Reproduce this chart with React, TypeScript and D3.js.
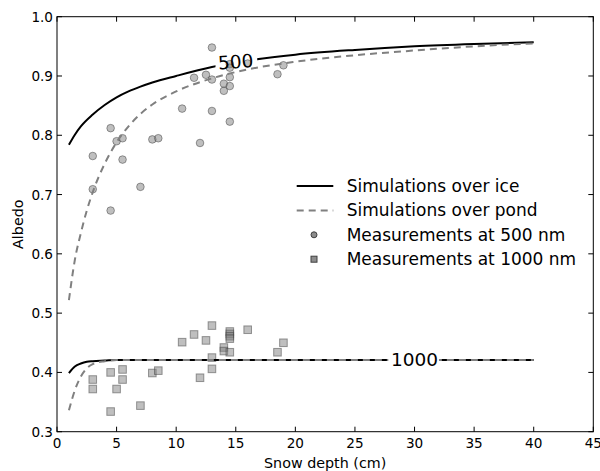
import React from "react";
import * as d3 from "d3";

// ---- data ----
const iceDepth500 = [1, 1.5, 2, 3, 4, 5, 6, 7, 8, 10, 13, 16, 20, 25, 30, 35, 40];
const iceAlbedo500 = [0.784, 0.801, 0.815, 0.835, 0.851, 0.864, 0.874, 0.882, 0.889, 0.9, 0.915, 0.926, 0.936, 0.944, 0.95, 0.954, 0.957];
const pondDepth500 = [1, 1.5, 2, 2.5, 3, 4, 5, 6, 7, 8, 10, 13, 16, 20, 25, 30, 35, 40];
const pondAlbedo500 = [0.522, 0.59, 0.635, 0.673, 0.704, 0.752, 0.788, 0.815, 0.836, 0.852, 0.874, 0.896, 0.911, 0.924, 0.935, 0.943, 0.95, 0.955];
const iceDepth1000 = [1, 1.5, 2, 2.5, 3, 4, 5, 40];
const iceAlbedo1000 = [0.399, 0.41, 0.415, 0.418, 0.419, 0.42, 0.421, 0.421];
const pondDepth1000 = [1, 1.5, 2, 2.5, 3, 4, 5, 40];
const pondAlbedo1000 = [0.336, 0.37, 0.393, 0.407, 0.414, 0.419, 0.421, 0.421];

const measDepth500 = [4.5, 3, 5, 5.5, 5.5, 8, 8.5, 3, 7, 4.5, 13, 11.5, 12.5, 13, 14, 14, 14.5, 14.5, 14.5, 14.5, 16, 18.5, 19, 10.5, 13, 14.5, 12];
const measAlbedo500 = [0.812, 0.765, 0.79, 0.795, 0.759, 0.793, 0.795, 0.709, 0.713, 0.673, 0.948, 0.897, 0.902, 0.894, 0.887, 0.875, 0.898, 0.883, 0.92, 0.914, 0.921, 0.903, 0.918, 0.845, 0.841, 0.823, 0.787];
const measDepth1000 = [3, 3, 4.5, 4.5, 5.5, 5.5, 5, 7, 8, 8.5, 13, 13, 13, 11.5, 12.5, 10.5, 12, 14, 14, 14.5, 14.5, 14.5, 14.5, 14.5, 16, 18.5, 19];
const measAlbedo1000 = [0.388, 0.372, 0.4, 0.334, 0.405, 0.388, 0.372, 0.344, 0.399, 0.403, 0.479, 0.425, 0.406, 0.464, 0.454, 0.451, 0.391, 0.442, 0.436, 0.469, 0.465, 0.461, 0.457, 0.434, 0.472, 0.434, 0.45];

const xTicks = [0, 5, 10, 15, 20, 25, 30, 35, 40, 45];
const yTicks = [0.3, 0.4, 0.5, 0.6, 0.7, 0.8, 0.9, 1.0];
const legendLabels = ["Simulations over ice", "Simulations over pond", "Measurements at 500 nm", "Measurements at 1000 nm"];

const W = 600, H = 471;
const L = 57, R = 593.3, T = 16.7, B = 431.7;
const FONT = "DejaVu Sans, sans-serif";

export default function App() {
  const x = d3.scaleLinear().domain([0, 45]).range([L, R]);
  const y = d3.scaleLinear().domain([0.3, 1.0]).range([B, T]);
  const line = (xs: number[], ys: number[]) =>
    d3.line<number>().x((_, i) => x(xs[i])).y((_, i) => y(ys[i])).curve(d3.curveMonotoneX)(xs) || "";

  const tick = 5;
  const lab500 = { x: x(15.0), y: y(0.924) };
  const lab1000 = { x: x(30.0), y: y(0.421) };
  const markerR = 3.8;
  const sq = 7.6;

  return (
    <svg width={W} height={H} style={{ position: "absolute", left: 0, top: 0 }} fontFamily={FONT}>
      <defs>
        <mask id="m500">
          <rect x={0} y={0} width={W} height={H} fill="white" />
          <rect x={x(13.3)} y={lab500.y - 16} width={x(16.8) - x(13.3)} height={26} fill="black" />
        </mask>
        <mask id="m1000">
          <rect x={0} y={0} width={W} height={H} fill="white" />
          <rect x={x(27.8)} y={lab1000.y - 14} width={x(32.05) - x(27.8)} height={28} fill="black" />
        </mask>
        <clipPath id="plot"><rect x={L} y={T} width={R - L} height={B - T} /></clipPath>
      </defs>
      <rect x={0} y={0} width={W} height={H} fill="white" />

      <g clipPath="url(#plot)">
        {measDepth500.map((d, i) => (
          <circle key={"c" + i} cx={x(d)} cy={y(measAlbedo500[i])} r={markerR}
            fill="#808080" fillOpacity={0.5} stroke="#404040" strokeOpacity={0.5} strokeWidth={1} />
        ))}
        {measDepth1000.map((d, i) => (
          <rect key={"s" + i} x={x(d) - sq / 2} y={y(measAlbedo1000[i]) - sq / 2} width={sq} height={sq}
            fill="#808080" fillOpacity={0.5} stroke="#404040" strokeOpacity={0.5} strokeWidth={1} />
        ))}
        <path d={line(iceDepth500, iceAlbedo500)} fill="none" stroke="black" strokeWidth={2} mask="url(#m500)" />
        <path d={line(pondDepth500, pondAlbedo500)} fill="none" stroke="#808080" strokeWidth={2} strokeDasharray="7,5" />
        <g mask="url(#m1000)">
          <path d={line(iceDepth1000, iceAlbedo1000)} fill="none" stroke="black" strokeWidth={2} />
          <path d={line(pondDepth1000, pondAlbedo1000)} fill="none" stroke="#808080" strokeWidth={2} strokeDasharray="7,5" />
        </g>
      </g>

      <text x={lab500.x} y={lab500.y} fontSize={18.5} textAnchor="middle" dominantBaseline="central"
        transform={`rotate(-4 ${lab500.x} ${lab500.y})`}>500</text>
      <text x={lab1000.x} y={lab1000.y} fontSize={18.5} textAnchor="middle" dominantBaseline="central">1000</text>

      <rect x={L} y={T} width={R - L} height={B - T} fill="none" stroke="black" strokeWidth={1} />
      {xTicks.map((t) => (
        <g key={"xt" + t}>
          <line x1={x(t)} x2={x(t)} y1={B} y2={B - tick} stroke="black" />
          <line x1={x(t)} x2={x(t)} y1={T} y2={T + tick} stroke="black" />
          <text x={x(t)} y={B + 11} fontSize={13.6} textAnchor="middle" dominantBaseline="central">{t}</text>
        </g>
      ))}
      {yTicks.map((t) => (
        <g key={"yt" + t}>
          <line x1={L} x2={L + tick} y1={y(t)} y2={y(t)} stroke="black" />
          <line x1={R} x2={R - tick} y1={y(t)} y2={y(t)} stroke="black" />
          <text x={L - 4} y={y(t)} fontSize={13.6} textAnchor="end" dominantBaseline="central">{t.toFixed(1)}</text>
        </g>
      ))}
      <text x={(L + R) / 2} y={463} fontSize={14.3} textAnchor="middle" dominantBaseline="central">Snow depth (cm)</text>
      <text x={18} y={(T + B) / 2} fontSize={14.3} textAnchor="middle" dominantBaseline="central"
        transform={`rotate(-90 18 ${(T + B) / 2})`}>Albedo</text>

      {legendLabels.map((lab, i) => {
        const cy = 186 + i * 24.4;
        return (
          <g key={"lg" + i}>
            {i === 0 && <line x1={296.7} x2={333.3} y1={cy} y2={cy} stroke="black" strokeWidth={2} />}
            {i === 1 && <line x1={296.7} x2={333.3} y1={cy} y2={cy} stroke="#808080" strokeWidth={2} strokeDasharray="7,5" />}
            {i === 2 && <circle cx={314} cy={cy} r={3} fill="#8c8c8c" stroke="#404040" strokeWidth={1} />}
            {i === 3 && <rect x={314 - 3} y={cy - 3} width={6} height={6} fill="#8c8c8c" stroke="#404040" strokeWidth={1} />}
            <text x={346.7} y={cy} fontSize={17} dominantBaseline="central">{lab}</text>
          </g>
        );
      })}
    </svg>
  );
}
